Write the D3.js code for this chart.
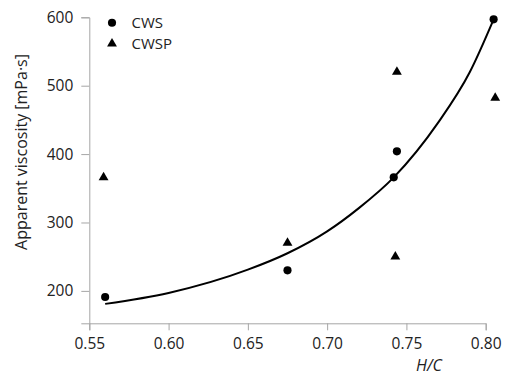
<!DOCTYPE html>
<html>
<head>
<meta charset="utf-8">
<script src="https://cdn.jsdelivr.net/npm/d3@7"></script>
<style>
  body { margin: 0; background: #fff; }
  svg text { font-family: "Open Sans", "Noto Sans", sans-serif; fill: #222; }
  .axis path, .axis line { stroke: #a6a6a6; stroke-width: 1; }
</style>
</head>
<body>
<div id="chart"></div>
<script>
// values
var cwsHC = [0.56, 0.675, 0.742, 0.744, 0.805];
var cwsVisc = [191, 230, 366, 404, 597];
var cwspHC = [0.559, 0.675, 0.743, 0.744, 0.806];
var cwspVisc = [366, 270, 250, 520, 482];
// trend curve, sampled by eye
var fitHC = [0.56, 0.60, 0.65, 0.675, 0.70, 0.72, 0.742, 0.77, 0.79, 0.805];
var fitVisc = [181, 197, 231, 255, 287, 321, 366, 446, 520, 597];
var xTicks = [0.55, 0.60, 0.65, 0.70, 0.75, 0.80];
var yTicks = [200, 300, 400, 500, 600];
var seriesNames = ["CWS", "CWSP"];

var width = 505, height = 378;

var svg = d3.select("#chart").append("svg")
  .attr("width", width)
  .attr("height", height);

var x = d3.scaleLinear()
  .domain([0.55, 0.80])
  .range([89.3, 485.7]);

var y = d3.scaleLinear()
  .domain([152.6, 600])
  .range([323.3, 17.3]);

var xAxis = d3.axisBottom(x)
  .tickValues(xTicks)
  .tickFormat(d3.format(".2f"))
  .tickSize(7)
  .tickPadding(8);

var yAxis = d3.axisLeft(y)
  .tickValues(yTicks)
  .tickSize(8)
  .tickPadding(8);

svg.append("g")
  .attr("class", "x axis")
  .attr("transform", "translate(0," + y.range()[0] + ")")
  .call(xAxis)
  .selectAll("text")
  .style("font-size", "15.5px")
  .attr("fill", "#222");

svg.append("g")
  .attr("class", "y axis")
  .attr("transform", "translate(" + x.range()[0] + ",0)")
  .call(yAxis)
  .selectAll("text")
  .style("font-size", "15.5px")
  .attr("fill", "#222");

svg.selectAll(".axis text").attr("font-family", null);

// axis titles
svg.append("text")
  .attr("transform", "translate(27,152) rotate(-90)")
  .attr("text-anchor", "middle")
  .style("font-size", "16px")
  .text("Apparent viscosity [mPa·s]");

svg.append("text")
  .attr("x", 429)
  .attr("y", 371)
  .attr("text-anchor", "middle")
  .style("font-size", "16px")
  .style("font-style", "italic")
  .text("H/C");

// fitted curve
var fitData = fitHC.map(function(d, i) { return [d, fitVisc[i]]; });
var line = d3.line()
  .x(function(d) { return x(d[0]); })
  .y(function(d) { return y(d[1]); })
  .curve(d3.curveMonotoneX);

svg.append("path")
  .datum(fitData)
  .attr("fill", "none")
  .attr("stroke", "#000")
  .attr("stroke-width", 2)
  .attr("d", line);

// points
var circle = d3.symbol().type(d3.symbolCircle).size(52);
var triangle = d3.symbol().type(d3.symbolTriangle).size(42);

svg.selectAll(".cws")
  .data(cwsHC.map(function(d, i) { return [d, cwsVisc[i]]; }))
  .enter().append("path")
  .attr("class", "cws")
  .attr("d", circle)
  .attr("fill", "#000")
  .attr("transform", function(d) { return "translate(" + x(d[0]) + "," + y(d[1]) + ")"; });

svg.selectAll(".cwsp")
  .data(cwspHC.map(function(d, i) { return [d, cwspVisc[i]]; }))
  .enter().append("path")
  .attr("class", "cwsp")
  .attr("d", triangle)
  .attr("fill", "#000")
  .attr("transform", function(d) { return "translate(" + x(d[0]) + "," + y(d[1]) + ")"; });

// legend
var legend = svg.append("g").attr("transform", "translate(112,22.7)");
legend.selectAll("path")
  .data(seriesNames)
  .enter().append("path")
  .attr("d", function(d, i) { return i == 0 ? circle() : triangle(); })
  .attr("fill", "#000")
  .attr("transform", function(d, i) { return "translate(0," + (i * 21) + ")"; });
legend.selectAll("text")
  .data(seriesNames)
  .enter().append("text")
  .attr("x", 19.5)
  .attr("y", function(d, i) { return i * 21 + 5.2; })
  .style("font-size", "15px")
  .text(function(d) { return d; });
</script>
</body>
</html>
